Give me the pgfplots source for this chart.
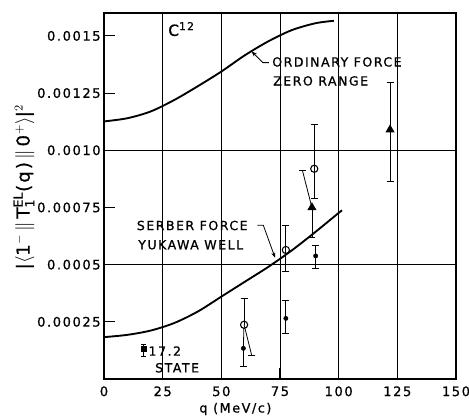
\documentclass[border=0pt]{standalone}
\usepackage{fontspec}
\setmainfont{DejaVu Sans}[LetterSpace=12, FakeBold=0.8]
\usepackage{pgfplots}
\pgfplotsset{compat=1.18}
\usetikzlibrary{calc,arrows.meta}

\begin{document}
\begin{tikzpicture}
\begin{axis}[
    scale only axis,
    width=264pt, height=274.5pt,
    xmin=0, xmax=150, ymin=0, ymax=0.0016,
    xtick={0,25,50,75,100,125,150},
    ytick={0.00025,0.0005,0.00075,0.001,0.00125,0.0015},
    yticklabels={0.00025,0.0005,0.00075,0.0010,0.00125,0.0015},
    scaled y ticks=false,
    /pgf/number format/assume math mode=true,
    tick label style={font=\fontsize{9.8}{11}\selectfont},
    yticklabel style={xshift=1pt},
    xticklabel style={yshift=-2pt},
    xmajorgrids,
    grid style={black, line width=0.5pt},
    extra y ticks={0.0005,0.001},
    extra y tick labels={},
    extra y tick style={grid=major, major tick length=0pt},
    tick align=inside, xtick pos=bottom, ytick pos=left,
    major tick length=8pt,
    axis line style={line width=1pt},
    tick style={black, line width=0.8pt},
    clip=false,
]
% ordinary force, zero range
\addplot[smooth, black, line width=1.4pt] coordinates {
    (0,0.001126) (10,0.001140) (20,0.001170) (30,0.001220) (40,0.001280)
    (50,0.001344) (60,0.001415) (70,0.001476) (80,0.001525) (90,0.001555)
    (98,0.001566)
};
% serber force, yukawa well
\addplot[smooth, black, line width=1.4pt] coordinates {
    (0,0.000183) (10,0.000193) (20,0.000212) (30,0.000245) (40,0.000295)
    (50,0.000360) (60,0.000425) (70,0.000490) (80,0.000562) (90,0.000642)
    (100,0.000726) (101.5,0.000737)
};

% displaced error bars
\addplot[black, line width=0.6pt, mark=-, mark size=2.6pt, mark indices={2}] coordinates {(59.7,0.000237) (62.9,0.000105)};
\addplot[black, line width=0.6pt, mark=-, mark size=2.6pt, mark indices={2}] coordinates {(88.6,0.00075) (84.6,0.00091)};
\addplot[black, line width=0.6pt] coordinates {(59.4,0.000134) (59.6,0.000222)};

% filled dots
\addplot[only marks, mark=*, mark size=1.6pt, black,
    error bars/.cd, y dir=both, y explicit,
    error bar style={line width=0.6pt}, error mark options={rotate=90, mark size=2.6pt, line width=0.6pt}]
    coordinates {
    (77.5,0.000265) += (0,0.00008) -= (0,0.000065)
    (90.2,0.000538) += (0,0.000047) -= (0,0.000055)
};
\addplot[only marks, mark=*, mark size=1.6pt, black,
    error bars/.cd, y dir=minus, y explicit,
    error bar style={line width=0.6pt}, error mark options={rotate=90, mark size=2.6pt, line width=0.6pt}]
    coordinates {(59.4,0.000134) -= (0,0.000079)};
% 17.2 state
\addplot[only marks, mark=square*, mark size=1.8pt, black,
    error bars/.cd, y dir=both, y explicit,
    error bar style={line width=0.6pt}, error mark options={rotate=90, mark size=1.8pt, line width=0.6pt}]
    coordinates {(16.8,0.000131) += (0,0.000022) -= (0,0.000034)};

% filled triangles
\addplot[only marks, mark=triangle*, mark size=3.5pt, black,
    error bars/.cd, y dir=both, y explicit,
    error bar style={line width=0.6pt}, error mark options={rotate=90, mark size=2.6pt, line width=0.6pt}]
    coordinates {(121.9,0.00109) += (0,0.000207) -= (0,0.000225)};
\addplot[only marks, mark=triangle*, mark size=3.5pt, black,
    error bars/.cd, y dir=minus, y explicit,
    error bar style={line width=0.6pt}, error mark options={rotate=90, mark size=2.6pt, line width=0.6pt}]
    coordinates {(88.6,0.00075) -= (0,0.00013)};

% open circles
\addplot[only marks, mark=o, mark size=2.7pt, black, mark options={fill=white, line width=0.8pt},
    error bars/.cd, y dir=both, y explicit,
    error bar style={line width=0.6pt}, error mark options={rotate=90, mark size=2.6pt, line width=0.6pt}]
    coordinates {
    (77.5,0.000564) += (0,0.000106) -= (0,0.000094)
    (89.6,0.000919) += (0,0.000194) -= (0,0.000131)
};
\addplot[only marks, mark=o, mark size=2.7pt, black, mark options={fill=white, line width=0.8pt},
    error bars/.cd, y dir=plus, y explicit,
    error bar style={line width=0.6pt}, error mark options={rotate=90, mark size=2.6pt, line width=0.6pt}]
    coordinates {(59.7,0.000237) += (0,0.000115)};

% leaders
\draw[line width=0.6pt, -{Stealth[length=4pt,width=3pt]}] (axis cs:70.3,0.001383) -- (axis cs:67.7,0.001383) -- (axis cs:62.9,0.001432);
\draw[line width=0.6pt, -{Stealth[length=4pt,width=3pt]}] (axis cs:65.4,0.000672) -- (axis cs:67.9,0.000672) -- (axis cs:72.9,0.000530);

% labels
\node[anchor=base west, inner sep=0pt, font=\fontsize{11.5}{12}\selectfont] at (axis cs:27.3,0.0015) {C\textsuperscript{12}};
\node[anchor=base west, inner sep=0pt, font=\fontsize{9.4}{10}\selectfont] at (axis cs:71.6,0.001366) {ORDINARY FORCE};
\node[anchor=base west, inner sep=0pt, font=\fontsize{9.4}{10}\selectfont] at (axis cs:72,0.001283) {ZERO RANGE};
\node[anchor=base west, inner sep=0pt, font=\fontsize{9.4}{10}\selectfont] at (axis cs:13.9,0.000651) {SERBER FORCE};
\node[anchor=base west, inner sep=0pt, font=\fontsize{9.4}{10}\selectfont] at (axis cs:14.5,0.000567) {YUKAWA WELL};
\node[anchor=base west, inner sep=0pt, font=\fontsize{9.4}{10}\selectfont] at (axis cs:18.9,0.000102) {17.2};
\node[anchor=base west, inner sep=0pt, font=\fontsize{9.4}{10}\selectfont] at (axis cs:21.7,0.000029) {STATE};

% axis titles
\node[inner sep=0pt, font=\fontsize{9.6}{10}\selectfont] at (axis cs:56,0) [yshift=-22.5pt] {q (MeV/c)};
\node[rotate=90, inner sep=0pt, font=\fontsize{13.5}{14}\selectfont] at ($(rel axis cs:0,0.525)+(-60pt,0)$)
    {|$\langle$1$^{-}$\,$\|$\,T$_{\mathrm{1}}^{\mathrm{EL}}$(q)\,$\|$\,0$^{+}\rangle$|$^{2}$};

\coordinate (sw) at (rel axis cs:0,0);
\coordinate (ne) at (rel axis cs:1,1);
\end{axis}
\pgfresetboundingbox
\path[use as bounding box] ($(sw)+(-78pt,-28.5pt)$) rectangle ($(ne)+(9.75pt,9.75pt)$);
\end{tikzpicture}
\end{document}
